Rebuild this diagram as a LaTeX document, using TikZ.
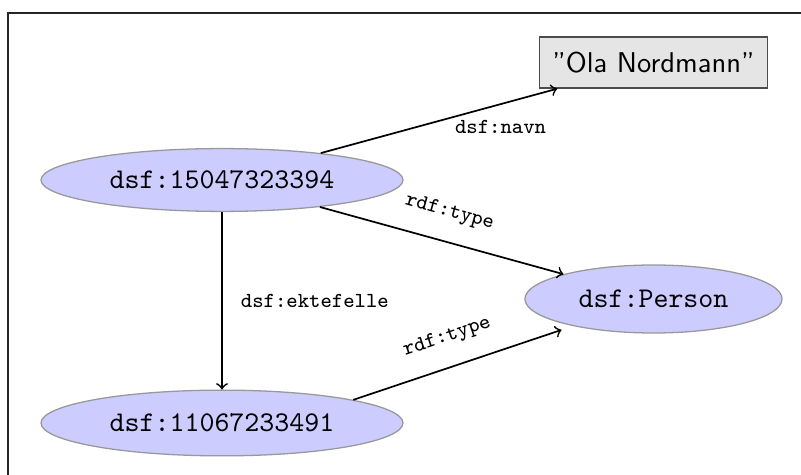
\documentclass[tikz,border=0pt]{standalone}
\usetikzlibrary{shapes.geometric}
\begin{document}
\begin{tikzpicture}[x=0.35pt,y=-0.35pt,
  resource/.style={ellipse, draw=black!40, fill=blue!20, line width=0.45pt,
    font=\ttfamily\fontsize{10}{12}\selectfont, inner sep=0pt},
  literal/.style={rectangle, draw=black!70, fill=black!10, line width=0.45pt,
    font=\sffamily\fontsize{10}{12}\selectfont, inner sep=0pt,
    minimum width=80pt, minimum height=17.9pt},
  edge/.style={->, semithick},
  elabel/.style={font=\ttfamily\fontsize{7.5}{9}\selectfont, text=black}]
  \useasboundingbox (0,0) rectangle (801,475);
  % frame (only top and left edges fall inside the page)
  \coordinate (ftr) at (801,13);
  \coordinate (ftl) at (8,13);
  \coordinate (fbl) at (8,475);
  \draw[line width=0.4pt, black!85] (ftr) -- (ftl) -- (fbl);

  \node[resource, minimum width=126.7pt, minimum height=22pt] (s) at (222,180) {dsf:15047323394};
  \node[resource, minimum width=126.7pt, minimum height=23pt] (w) at (222,423) {dsf:11067233491};
  \node[resource, minimum width=90pt, minimum height=23.8pt] (p) at (653.5,299) {dsf:Person};
  \node[literal] (n) at (653.5,62.5) {''Ola Nordmann''};

  \draw[edge] (s) -- node[elabel, pos=0.76, below=2pt] {dsf:navn} (n);
  \draw[edge] (s) -- node[elabel, midway, sloped, above=3.5pt] {rdf:type} (p);
  \draw[edge] (s) -- node[elabel, midway, right=3pt] {dsf:ektefelle} (w);
  \draw[edge, shorten >=4.2pt] (w.10) -- node[elabel, pos=0.47, sloped, above=3.5pt] {rdf:type} (p);
\end{tikzpicture}
\end{document}
